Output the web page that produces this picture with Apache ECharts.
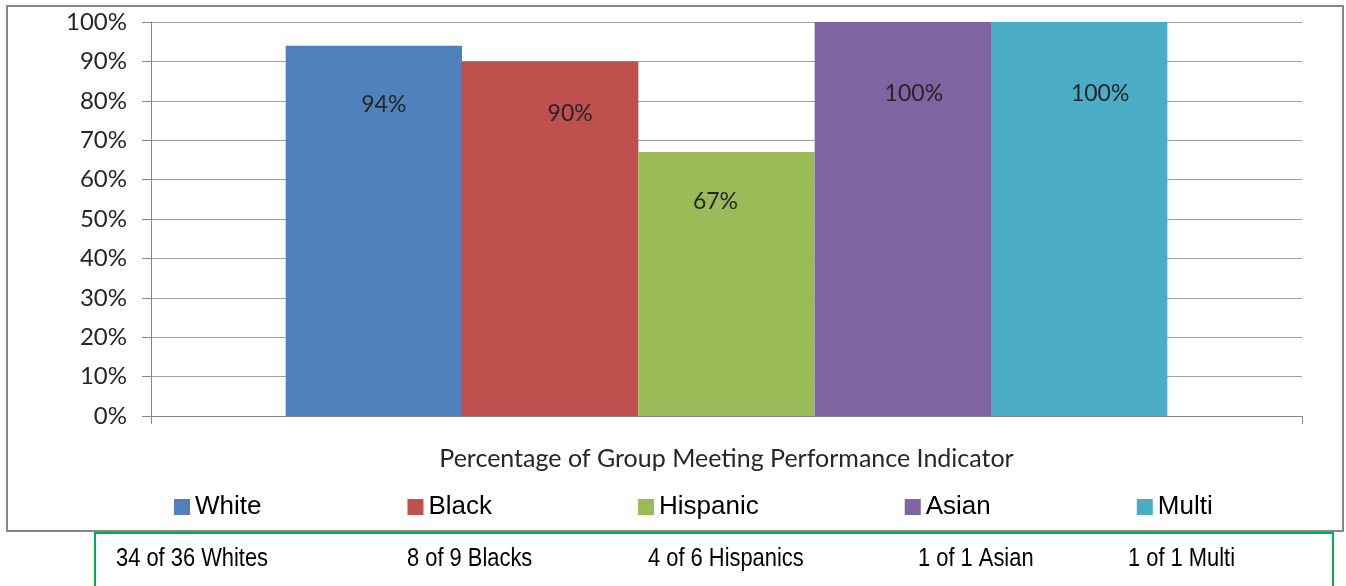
<!DOCTYPE html>
<html>
<head>
<meta charset="utf-8">
<script src="https://cdn.jsdelivr.net/npm/echarts@6/dist/echarts.min.js"></script>
<style>
html,body{margin:0;padding:0;background:#fff;}
#chart{width:1346px;height:586px;}
</style>
</head>
<body>
<div id="chart"></div>
<script>
// ---- data ----
const categories = ['Percentage of Group Meeting Performance Indicator'];
const groups = ['White', 'Black', 'Hispanic', 'Asian', 'Multi'];
const values = [94, 90, 67, 100, 100];
const countNotes = ['34 of 36 Whites', '8 of 9 Blacks', '4 of 6 Hispanics', '1 of 1 Asian', '1 of 1 Multi'];
const yTicks = [0, 10, 20, 30, 40, 50, 60, 70, 80, 90, 100];

// ---- styling ----
const colors = ['#4f81bd', '#c0504d', '#9bbb59', '#8064a2', '#4bacc6'];
const labelOffsets = [[10, 0], [20, 0], [-11, 0], [11, 0], [21, 0]];
const labelDistances = [47, 41, 38, 60, 60];
const noteX = [116, 407, 648, 918, 1128];
const calibri = 'Lato, "Open Sans", sans-serif';
const arial = '"Liberation Sans", Arial, sans-serif';

const chart = echarts.init(document.getElementById('chart'), null, {renderer: 'canvas'});

const series = groups.map((g, i) => ({
  name: g,
  type: 'bar',
  data: [values[i]],
  itemStyle: {color: colors[i]},
  barGap: '0%',
  barCategoryGap: '23.4%',
  label: {
    show: true,
    position: 'insideTop',
    distance: labelDistances[i],
    offset: labelOffsets[i],
    formatter: p => p.value + '%',
    fontFamily: calibri,
    fontSize: 23,
    color: '#262626'
  }
}));

const option = {
  animation: false,
  backgroundColor: '#ffffff',
  grid: {left: 151, right: 44, top: 22, bottom: 170, containLabel: false},
  legend: {
    data: groups,
    left: 169,
    top: 489,
    itemWidth: 16,
    itemHeight: 16,
    itemGap: 146,
    icon: 'rect',
    textStyle: {fontFamily: arial, fontSize: 26, color: '#000'}
  },
  xAxis: {
    type: 'category',
    data: categories,
    axisLine: {lineStyle: {color: '#868686', width: 1}},
    axisTick: {show: true, length: 8, lineStyle: {color: '#868686'}},
    axisLabel: {show: false},
    name: categories[0],
    nameLocation: 'middle',
    nameGap: 30,
    nameTextStyle: {fontFamily: calibri, fontSize: 25, color: '#262626'}
  },
  yAxis: {
    type: 'value',
    min: yTicks[0],
    max: yTicks[yTicks.length - 1],
    interval: 10,
    axisLine: {show: true, lineStyle: {color: '#868686', width: 1}},
    axisTick: {show: true, length: 9, lineStyle: {color: '#868686'}},
    axisLabel: {formatter: v => v + '%', fontFamily: calibri, fontSize: 24, color: '#262626', margin: 24},
    splitLine: {show: true, lineStyle: {color: '#a0a0a0', width: 1}}
  },
  series: series,
  graphic: [
    {type: 'rect', shape: {x: 7, y: 6, width: 1336, height: 525}, style: {fill: 'none', stroke: '#868686', lineWidth: 2}, z: -1},
    {type: 'rect', shape: {x: 95, y: 533, width: 1238, height: 80}, style: {fill: 'none', stroke: '#00b050', lineWidth: 2}, z: -1}
  ].concat(countNotes.map((t, i) => ({
    type: 'text',
    x: noteX[i],
    y: 559,
    scaleX: 0.82,
    style: {text: t, fontFamily: arial, fontSize: 26.7, fill: '#000', textVerticalAlign: 'middle'}
  })))
};

chart.setOption(option);
</script>
</body>
</html>
